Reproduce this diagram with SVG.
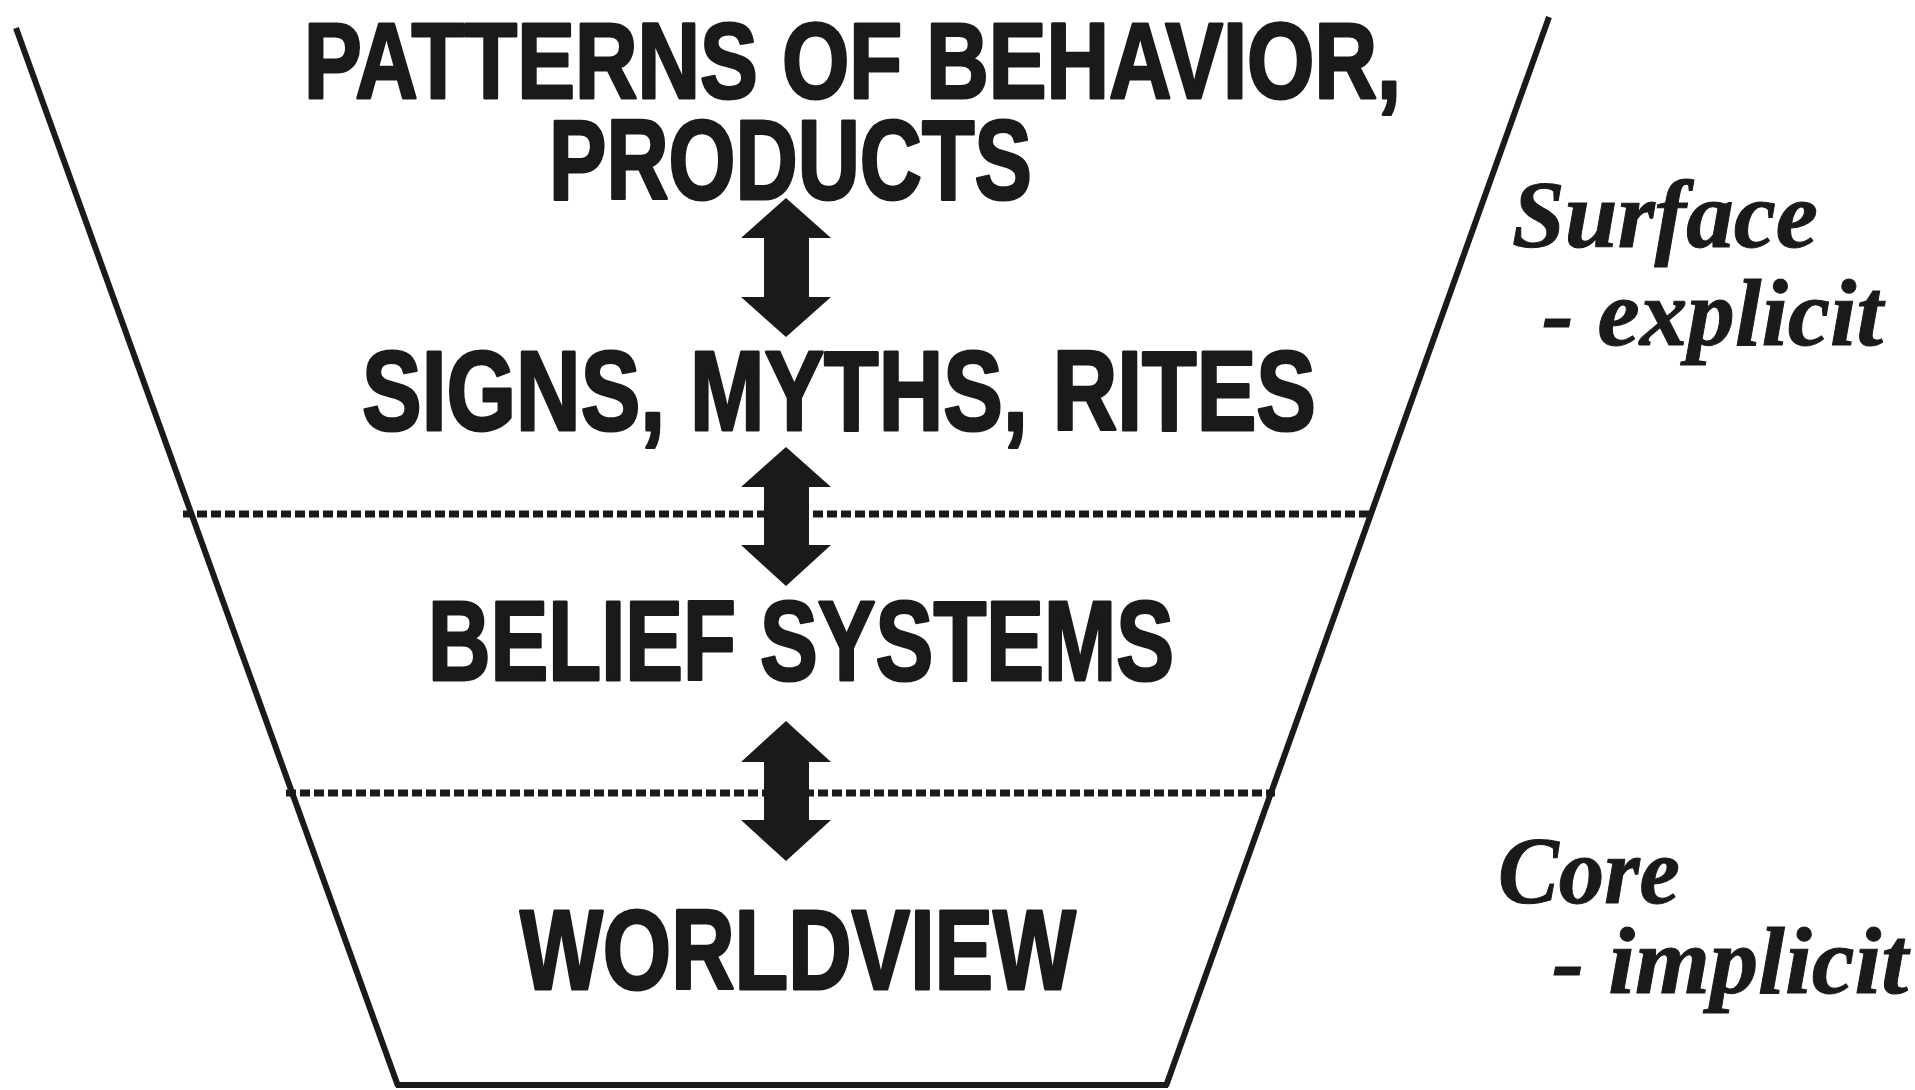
<svg xmlns="http://www.w3.org/2000/svg" width="1915" height="1090" viewBox="0 0 1915 1090">
<style>
.frame{stroke:#1a1a1a;stroke-width:6;fill:none;stroke-linecap:butt}
.dash{stroke:#1a1a1a;stroke-width:7;fill:none;stroke-dasharray:10 4}
.lbl{font-family:"Liberation Sans",Arial,sans-serif;font-weight:bold;fill:#1a1a1a;stroke:#1a1a1a;stroke-width:3;stroke-linejoin:round}
.side{font-family:"Liberation Serif","Times New Roman",serif;font-weight:bold;font-style:italic;fill:#1a1a1a;font-size:96px;stroke:#1a1a1a;stroke-width:1}
.arr{fill:#1a1a1a}
</style>
<rect width="1915" height="1090" fill="#ffffff"/>
<g id="frame">
<line class="frame" x1="16" y1="28" x2="398" y2="1086"/>
<line class="frame" x1="1549" y1="17" x2="1166" y2="1086"/>
<line class="frame" x1="396" y1="1085" x2="1168" y2="1085"/>
</g>
<g id="dividers">
<line class="dash" x1="183" y1="514" x2="1373" y2="514"/>
<line class="dash" x1="286" y1="793" x2="1275" y2="793"/>
</g>
<g id="node-patterns">
<text class="lbl" x="304" y="98" font-size="108" stroke-width="4.5" textLength="1097" lengthAdjust="spacingAndGlyphs">PATTERNS OF BEHAVIOR,</text>
<text class="lbl" x="549" y="199" font-size="114" textLength="483" lengthAdjust="spacingAndGlyphs">PRODUCTS</text>
</g>
<g id="node-signs">
<text class="lbl" x="362" y="430" font-size="114" textLength="954" lengthAdjust="spacingAndGlyphs">SIGNS, MYTHS, RITES</text>
</g>
<g id="node-belief">
<text class="lbl" x="428" y="680" font-size="114" textLength="746" lengthAdjust="spacingAndGlyphs">BELIEF SYSTEMS</text>
</g>
<g id="node-worldview">
<text class="lbl" x="520" y="989" font-size="114" textLength="556" lengthAdjust="spacingAndGlyphs">WORLDVIEW</text>
</g>
<g id="connectors">
<path class="arr" d="M786,198 L831,238 L809,238 L809,297 L831,297 L786,337 L741,297 L764,297 L764,238 L741,238 Z"/>
<path class="arr" d="M786,447 L831,487 L809,487 L809,545 L831,545 L786,586 L741,545 L764,545 L764,487 L741,487 Z"/>
<path class="arr" d="M786,721 L831,762 L809,762 L809,820 L831,820 L786,861 L741,820 L764,820 L764,762 L741,762 Z"/>
</g>
<g id="label-surface">
<text class="side" x="1512" y="247" textLength="306" lengthAdjust="spacingAndGlyphs">Surface</text>
<text class="side" x="1542" y="345" textLength="341" lengthAdjust="spacingAndGlyphs">- explicit</text>
</g>
<g id="label-core">
<text class="side" x="1498" y="903" textLength="182" lengthAdjust="spacingAndGlyphs">Core</text>
<text class="side" x="1552" y="993" textLength="356" lengthAdjust="spacingAndGlyphs">- implicit</text>
</g>
</svg>
